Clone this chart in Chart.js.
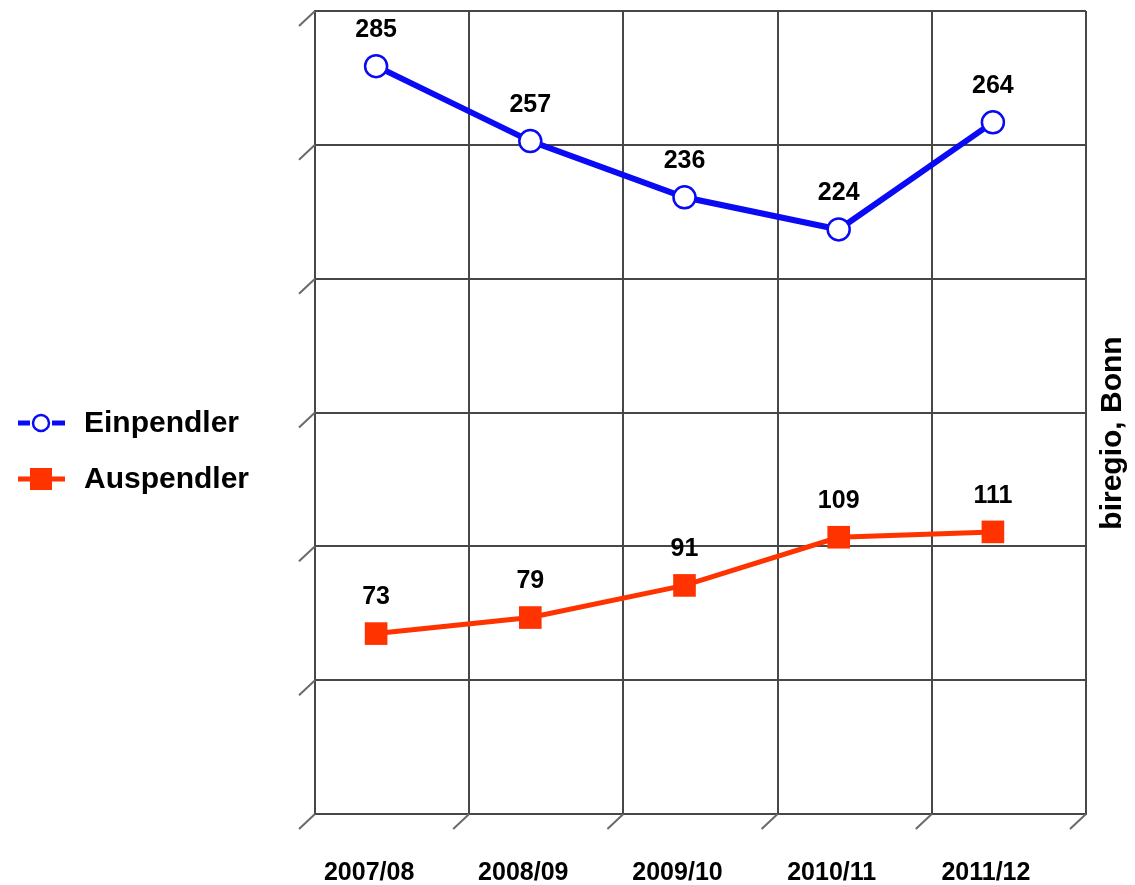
<!DOCTYPE html>
<html>
<head>
<meta charset="utf-8">
<script src="https://cdn.jsdelivr.net/npm/chart.js@4/dist/chart.umd.min.js"></script>
<style>
  html, body { margin: 0; padding: 0; background: #fff; }
  #chart { display: block; }
</style>
</head>
<body>
<canvas id="chart" width="1135" height="885"></canvas>
<script>
const years = ['2007/08', '2008/09', '2009/10', '2010/11', '2011/12'];
const einpendler = [285, 257, 236, 224, 264];
const auspendler = [73, 79, 91, 109, 111];
const yTicks = [0, 50, 100, 150, 200, 250, 300];
const seriesNames = ['Einpendler', 'Auspendler'];
const sourceText = 'biregio, Bonn';

const BLUE = '#0a0af5';
const RED = '#ff3300';
const GRID = '#474747';
const FONT = '"Liberation Sans", Arial, sans-serif';
const DEPTH_X = -16; // front plane sits left/down of the back wall
const DEPTH_Y = 15;

// --- draw lines + labels on the front plane, grid stays on the back wall ---
const depthPlugin = {
    id: 'depth',
    beforeDatasetsDraw: (chart) => {
        chart.ctx.save();
        chart.ctx.translate(DEPTH_X, DEPTH_Y);
    },
    afterDatasetsDraw: (chart) => {
        const ctx = chart.ctx;
        ctx.font = `bold 25px ${FONT}`;
        ctx.fillStyle = '#000';
        ctx.textAlign = 'center';
        ctx.textBaseline = 'middle';
        chart.data.datasets.forEach((ds, i) => {
            chart.getDatasetMeta(i).data.forEach((pt, j) => {
                ctx.fillText(String(ds.data[j]), pt.x, pt.y - 36);
            });
        });
        ctx.restore();
    },
};

// --- little diagonal depth strokes, legend and source note ---
const decorPlugin = {
    id: 'decor',
    afterDraw: (chart) => {
        const ctx = chart.ctx;
        const { x, y } = chart.scales;
        const area = chart.chartArea;

        ctx.save();
        ctx.strokeStyle = '#6a6a6a';
        ctx.lineWidth = 2;
        ctx.beginPath();
        yTicks.forEach(v => {
            const py = y.getPixelForValue(v);
            ctx.moveTo(area.left, py);
            ctx.lineTo(area.left + DEPTH_X, py + DEPTH_Y);
        });
        for (let i = 1; i <= years.length; i++) {
            const px = x.getPixelForValue(i - 0.5);
            ctx.moveTo(px, area.bottom);
            ctx.lineTo(px + DEPTH_X, area.bottom + DEPTH_Y);
        }
        ctx.stroke();

        // legend
        const rows = [
            { name: seriesNames[0], color: BLUE, y: 423, style: 'circle' },
            { name: seriesNames[1], color: RED, y: 479, style: 'rect' },
        ];
        rows.forEach(r => {
            ctx.strokeStyle = r.color;
            ctx.lineWidth = 5;
            ctx.beginPath();
            ctx.moveTo(18, r.y); ctx.lineTo(30, r.y);
            ctx.moveTo(52, r.y); ctx.lineTo(65, r.y);
            ctx.stroke();
            if (r.style === 'circle') {
                ctx.lineWidth = 2.5;
                ctx.fillStyle = '#fff';
                ctx.beginPath();
                ctx.arc(41, r.y, 8, 0, Math.PI * 2);
                ctx.fill();
                ctx.stroke();
            } else {
                ctx.fillStyle = r.color;
                ctx.fillRect(30, r.y - 11, 22, 22);
            }
            ctx.fillStyle = '#000';
            ctx.font = `bold 30px ${FONT}`;
            ctx.textAlign = 'left';
            ctx.textBaseline = 'middle';
            ctx.fillText(r.name, 84, r.y + 1);
        });

        // source, rotated
        ctx.translate(1113, 433);
        ctx.rotate(-Math.PI / 2);
        ctx.font = `bold 30px ${FONT}`;
        ctx.textAlign = 'center';
        ctx.textBaseline = 'middle';
        ctx.fillText(sourceText, 0, 0);
        ctx.restore();
    },
};

new Chart(document.getElementById('chart'), {
    type: 'line',
    data: {
        labels: years,
        datasets: [
            {
                label: seriesNames[0],
                data: einpendler,
                borderColor: BLUE,
                borderWidth: 6,
                pointStyle: 'circle',
                pointRadius: 11,
                pointBorderWidth: 2.5,
                pointBackgroundColor: '#fff',
                pointBorderColor: BLUE,
                tension: 0,
            },
            {
                label: seriesNames[1],
                data: auspendler,
                borderColor: RED,
                borderWidth: 5,
                pointStyle: 'rect',
                pointRadius: 16,
                pointBorderWidth: 0,
                pointBackgroundColor: RED,
                pointBorderColor: RED,
                tension: 0,
            },
        ],
    },
    options: {
        responsive: false,
        animation: false,
        layout: { autoPadding: false, padding: { left: 315, right: 49, top: 11, bottom: 0 } },
        plugins: { legend: { display: false }, tooltip: { enabled: false } },
        scales: {
            x: {
                offset: true,
                grid: { offset: true, color: GRID, lineWidth: 2, drawTicks: false },
                border: { color: GRID, width: 2 },
                ticks: {
                    color: '#000',
                    font: { family: FONT, size: 25, weight: 'bold' },
                    labelOffset: -23,
                    padding: 44,
                    maxRotation: 0,
                },
                afterFit: (scale) => { scale.height = 71; },
            },
            y: {
                min: 0,
                max: 300,
                ticks: { stepSize: 50, display: false },
                grid: { color: GRID, lineWidth: 2, drawTicks: false },
                border: { color: GRID, width: 2 },
                afterFit: (scale) => { scale.width = 0; },
            },
        },
    },
    plugins: [depthPlugin, decorPlugin],
});
</script>
</body>
</html>
